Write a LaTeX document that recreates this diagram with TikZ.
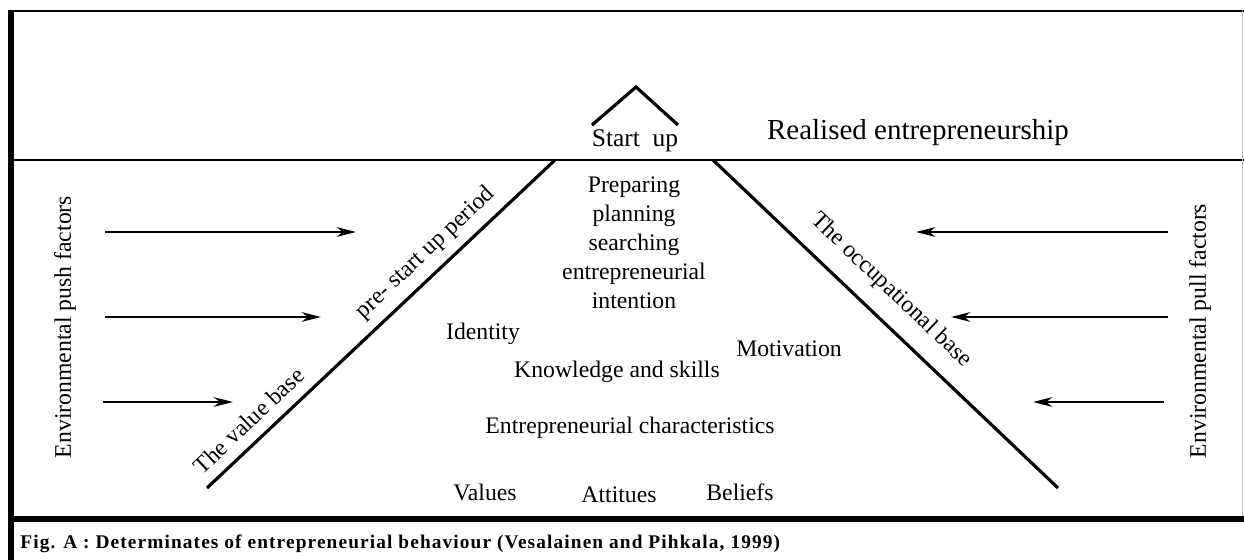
\documentclass[tikz,border=0pt]{standalone}
\usepackage{fontspec}
\setmainfont{Liberation Serif}
\usetikzlibrary{arrows.meta}

\begin{document}
\begin{tikzpicture}[
            x = 0.02cm, y = -0.02cm, % one unit = one pixel of the figure
            > = {Stealth[length=11pt, width=5.5pt]}, % arrow head style
            font = \fontsize{13.5}{16}\selectfont, % body text
            every node/.style = {inner sep = 0pt}
        ]

        \tikzstyle{frame}=[
            draw = black,
            line width = 1.2pt
        ]
        \tikzstyle{heavy}=[
            draw = black,
            line width = 3pt
        ]
        \tikzstyle{force}=[
            ->,
            line width = 1.7pt
        ]
        \tikzstyle{slope}=[
            line width = 1.8pt
        ]
        \tikzstyle{stack}=[
            align = center,
            font = \fontsize{13.5}{16.5}\selectfont
        ]

        \useasboundingbox (0,0) rectangle (1244,560);

        % frame
        \coordinate (topL) at (11,11);
        \coordinate (topR) at (1244,11);
        \coordinate (midL) at (11,160);
        \coordinate (midR) at (1244,160);
        \coordinate (botL) at (11,519);
        \coordinate (botR) at (1244,519);
        \coordinate (edgeL) at (11,560);
        \coordinate (edgeT) at (1242,11);
        \coordinate (edgeB) at (1242,519);

        \draw[frame] (topL) -- (topR);
        \draw[frame] (midL) -- (midR);
        \draw[draw = black!25, line width = 0.4pt] (edgeT) -- (edgeB);
        \draw[heavy] (botL) -- (botR);
        \draw[heavy] ([yshift=0.6pt]topL) -- (edgeL);

        % start up peak
        \coordinate (peakL) at (592,125);
        \coordinate (peak) at (636,87);
        \coordinate (peakR) at (678,125);
        \draw[slope] (peakL) -- (peak) -- (peakR);

        \node[font = \fontsize{14.5}{17}\selectfont] (startup) at (635,141) {Start\ \ up};
        \node[font = \fontsize{16.5}{19}\selectfont] (realised) at (918,133) {Realised entrepreneurship};

        % the two slopes
        \coordinate (valueBot) at (207,488);
        \coordinate (valueTop) at (555,160);
        \coordinate (occTop) at (713,160);
        \coordinate (occBot) at (1058,488);

        \draw[slope] (valueBot) -- node[sloped, above = 6pt, pos = 0.16] (valuebase) {The value base}
            node[sloped, above = 5pt, pos = 0.67] (prestart) {pre- start up period} (valueTop);
        \draw[slope] (occTop) -- node[sloped, above = 9pt, pos = 0.46] (occbase) {The occupational base} (occBot);

        % push factors
        \node[rotate = 90] (push) at (65,327) {Environmental push factors};
        \coordinate (pushA) at (105,232);
        \coordinate (pushAend) at (356,232);
        \coordinate (pushB) at (105,317);
        \coordinate (pushBend) at (321,317);
        \coordinate (pushC) at (103,402);
        \coordinate (pushCend) at (233,402);
        \draw[force] (pushA) -- (pushAend);
        \draw[force] (pushB) -- (pushBend);
        \draw[force] (pushC) -- (pushCend);

        % pull factors
        \node[rotate = 90] (pull) at (1200,331) {Environmental pull factors};
        \coordinate (pullA) at (1168,232);
        \coordinate (pullAend) at (916,232);
        \coordinate (pullB) at (1168,317);
        \coordinate (pullBend) at (951,317);
        \coordinate (pullC) at (1164,402);
        \coordinate (pullCend) at (1033,402);
        \draw[force] (pullA) -- (pullAend);
        \draw[force] (pullB) -- (pullBend);
        \draw[force] (pullC) -- (pullCend);

        % inside the triangle
        \node[stack] (intention) at (634,243) {Preparing\\planning\\searching\\entrepreneurial\\intention};
        \node (identity) at (483,334) {Identity};
        \node (motivation) at (789,349) {Motivation};
        \node (knowledge) at (617,372) {Knowledge and skills};
        \node (traits) at (630,428) {Entrepreneurial characteristics};
        \node (values) at (485,492) {Values};
        \node (attitues) at (619,495) {Attitues};
        \node (beliefs) at (740,492) {Beliefs};

        % caption
        \node[anchor = base west, font = \fontsize{11}{13}\selectfont\bfseries\addfontfeatures{LetterSpace=5.8}]
            (caption) at (20,548) {Fig. A : Determinates of entrepreneurial behaviour (Vesalainen and Pihkala, 1999)};

    \end{tikzpicture}
\end{document}
